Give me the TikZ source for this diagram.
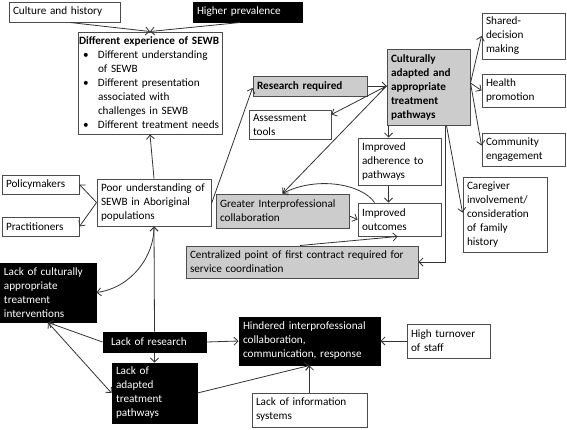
\documentclass[tikz,border=0pt]{standalone}
\usepackage{fontspec}
\setmainfont{Carlito}
\usepackage{xcolor}
\usepackage{tikz}
\usetikzlibrary{calc,arrows.meta}

\definecolor{cBorder}{gray}{0.3}
\definecolor{cLine}{gray}{0.2}
\definecolor{cFill}{gray}{0.8}

\tikzstyle{tsText} = [
    text=black,
    font=\fontsize{11.2}{14}\selectfont
]
\tikzstyle{tsBox} = [
    rectangle,
    tsText,
    align=left,
    draw=cBorder,
    line width=1pt,
    inner xsep=4pt,
    inner ysep=2pt
]
\tikzstyle{tsGrayBox} = [
    tsBox,
    fill=cFill
]
\tikzstyle{tsBlackBox} = [
    tsBox,
    draw=black,
    fill=black,
    text=white
]
\tikzstyle{tsArrow} = [
    ->,
    draw=cLine,
    line width=0.8pt
]

\begin{document}
\begin{tikzpicture}[x=1pt, y=-1pt, >={Straight Barb[length=4pt,width=8pt]}]

        \useasboundingbox (0,0) rectangle (567,429);

        % top row
        \node[tsBox, text width=103pt, minimum height=20pt] (culture) at (64.5,12) {Culture and history};
        \node[tsBlackBox, text width=101pt, minimum height=20pt] (prevalence) at (247.5,12) {Higher prevalence};

        \node[tsBox, inner xsep=1pt, text width=142pt, minimum height=102pt] (experience) at (150,83) {%
            \mbox{\textbf{Different experience of SEWB}}\\
            \hspace*{4pt}\makebox[15pt][l]{\textbullet}Different understanding\\
            \hspace*{19pt}of SEWB\\
            \hspace*{4pt}\makebox[15pt][l]{\textbullet}Different presentation\\
            \hspace*{19pt}associated with\\
            \hspace*{19pt}challenges in SEWB\\
            \mbox{\hspace*{4pt}\makebox[15pt][l]{\textbullet}Different treatment needs}};

        % treatment pathways
        \node[tsGrayBox, text width=106pt, minimum height=20pt] (research) at (310,86) {\textbf{Research required}};
        \node[tsGrayBox, text width=75pt, minimum height=76pt] (cultural) at (428.5,87)
            {\textbf{Culturally}\\\textbf{adapted and}\\\textbf{appropriate}\\\textbf{treatment}\\\textbf{pathways}};
        \node[tsBox, text width=75pt, minimum height=46pt] (shared) at (523.5,36) {Shared-\\decision\\making};
        \node[tsBox, text width=75pt, minimum height=33pt] (health) at (523.5,90.5) {Health\\promotion};
        \node[tsBox, text width=75pt, minimum height=33pt] (community) at (523.5,149.5) {Community\\engagement};
        \node[tsBox, text width=74pt, minimum height=29pt] (assessment) at (290,124.5) {Assessment\\tools};
        \node[tsBox, text width=75pt, minimum height=47pt] (adherence) at (399.5,161.5) {Improved\\adherence to\\pathways};
        \node[tsBox, text width=75pt, minimum height=33pt] (outcomes) at (399.5,219.5) {Improved\\outcomes};
        \node[tsGrayBox, text width=125pt, minimum height=34pt] (gip) at (282.5,211) {Greater Interprofessional\\collaboration};
        \node[tsGrayBox, text width=224pt, minimum height=32pt] (central) at (302,262)
            {Centralized point of first contract required for\\service coordination};
        \node[tsBox, text width=76pt, minimum height=75pt] (caregiver) at (505,214.5)
            {Caregiver\\involvement/\\consideration\\of family\\history};

        % understanding
        \node[tsBox, text width=106pt, minimum height=47pt] (poor) at (154,202.5)
            {Poor understanding of\\SEWB in Aboriginal\\populations};
        \node[tsBox, text width=69pt, minimum height=19pt] (policy) at (40.5,184.5) {Policymakers};
        \node[tsBox, text width=69pt, minimum height=19pt] (practitioners) at (40.5,226.5) {Practitioners};

        % barriers
        \node[tsBlackBox, text width=88pt, minimum height=59pt] (lackcult) at (48,292.5)
            {Lack of culturally\\appropriate\\treatment\\interventions};
        \node[tsBlackBox, text width=95pt, minimum height=20pt] (lackres) at (154.5,342) {\hspace*{4pt}Lack of research};
        \node[tsBlackBox, text width=77pt, minimum height=60pt] (lackadapt) at (154.5,393)
            {Lack of\\adapted\\treatment\\pathways};
        \node[tsBlackBox, text width=133pt, minimum height=48pt] (hindered) at (309.5,341)
            {Hindered interprofessional\\collaboration,\\communication, response};
        \node[tsBox, text width=75pt, minimum height=34pt] (turnover) at (448.5,341) {High turnover\\of staff};
        \node[tsBox, text width=107pt, minimum height=34pt] (infosys) at (309.5,410) {Lack of information\\systems};

        \draw[tsArrow] ($(culture.south)+(5.5,0)$) -- (experience.north);
        \draw[tsArrow] ($(prevalence.south)+(-7.5,0)$) -- (experience.north);
        \draw[tsArrow] (poor.north) -- (experience.south);
        \draw[tsArrow] (poor.west) -- (policy.east);
        \draw[tsArrow] (poor.west) -- (practitioners.east);
        \draw[tsArrow] ($(poor.east)+(0,1)$) -- ($(research.west)+(0,2)$);
        \draw[tsArrow] (lackres.north) -- (poor.south);
        \draw[tsArrow, <->] (poor.south) .. controls ($(poor.south)+(0,30)$) and ($(lackcult.east)+(35,-5)$) .. (lackcult.east);
        \draw[tsArrow] (lackres.west) -- (lackcult.south);
        \draw[tsArrow, <->] (lackcult.south) -- (lackadapt.west);
        \draw[tsArrow] (lackres.south) -- (lackadapt.north);
        \draw[tsArrow] (lackres.east) -- (hindered.west);
        \draw[tsArrow] (lackadapt.east) -- (hindered.south);
        \draw[tsArrow] (infosys.north) -- (hindered.south);
        \draw[tsArrow] (turnover.west) -- (hindered.east);

        \draw[tsArrow] (research.east) -- (research.east -| cultural.west);
        \draw[tsArrow] ($(cultural.west)+(0,-1)$) -- ($(assessment.north east)+(0,5)$);
        \draw[tsArrow] ($(cultural.west)+(0,-1)$) -- (gip.north);
        \draw[tsArrow] ($(cultural.south west)+(2,0)$) -- ($(adherence.north west)+(31,0)$);
        \draw[tsArrow] ($(adherence.south west)+(31,0)$) -- ($(outcomes.north west)+(31,0)$);
        \draw[tsArrow] ($(gip.east)+(0,5)$) -- (outcomes.west);
        \draw[tsArrow] ($(outcomes.north west)+(17,0)$) .. controls ($(outcomes.north west)+(5,-18)$) and ($(gip.north)+(35,-18)$) .. (gip.north);
        \draw[tsArrow] ($(central.north)+(-2,0)$) -- ($(outcomes.south)+(-2,0)$);
        \draw[tsArrow] ($(cultural.south east)+(-25,0)$) |- (central.east);
        \draw[tsArrow] ($(cultural.south east)+(-24,0)$) -- ($(caregiver.west)+(0,-2)$);
        \draw[tsArrow] ($(cultural.east)+(0,-4)$) -- (shared.west);
        \draw[tsArrow] ($(cultural.east)+(0,-4)$) -- (health.west);
        \draw[tsArrow] ($(cultural.east)+(0,-4)$) -- ($(community.west)+(0,-4)$);

\end{tikzpicture}
\end{document}
